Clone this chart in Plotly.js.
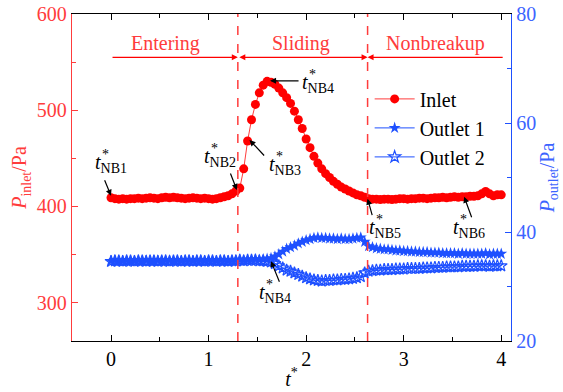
<!DOCTYPE html>
<html>
<head>
<meta charset="utf-8">
<script src="https://cdn.plot.ly/plotly-3.0.1.min.js"></script>
<style>html,body{margin:0;padding:0;background:#fff;}#chart{width:563px;height:392px;}</style>
</head>
<body>
<div id="chart"></div>
<script>
// time t* (dimensionless)
const tStar = [0.00,0.04,0.08,0.12,0.16,0.20,0.24,0.28,0.32,0.36,0.40,0.44,0.48,0.52,0.56,0.60,0.64,0.68,0.72,0.76,
0.80,0.84,0.88,0.92,0.96,1.00,1.04,1.08,1.12,1.16,1.20,1.24,1.28,1.32,1.36,1.40,1.44,1.48,1.52,1.56,
1.60,1.64,1.68,1.72,1.76,1.80,1.84,1.88,1.92,1.96,2.00,2.04,2.08,2.12,2.16,2.20,2.24,2.28,2.32,2.36,
2.40,2.44,2.48,2.52,2.56,2.60,2.64,2.68,2.72,2.76,2.80,2.84,2.88,2.92,2.96,3.00,3.04,3.08,3.12,3.16,
3.20,3.24,3.28,3.32,3.36,3.40,3.44,3.48,3.52,3.56,3.60,3.64,3.68,3.72,3.76,3.80,3.84,3.88,3.92,3.96,4.00];

// inlet pressure (Pa), left axis
const pInlet = [409,408,407.5,408,407.5,408,408,408.5,408,408.5,409,408.5,408,409,409.5,409,409.5,409,408.5,408,
408.5,409,408.5,408,408.5,408,407.5,408,409,410,411,413,416,419,439,468,490,506,518,526,
530,529,527,523,518,513,507,499,490,481,470,461,452,445,439,434,430,426,423,420,
418,416,414,412,411,409.5,408,407.5,407.5,407,407.5,407.5,407,407.5,408,408,407.5,408,408,408.5,
408.5,408,408.5,409,409,409.5,409,409.5,410,409.5,410,410,410.5,410.5,411,413,415.5,413,411,412,412];

// outlet pressures (Pa), right axis
const pOutlet1 = [34.7,34.8,34.7,34.7,34.8,34.7,34.7,34.8,34.7,34.8,34.7,34.7,34.8,34.7,34.8,34.8,34.7,34.8,34.7,34.8,
34.8,34.7,34.8,34.8,34.7,34.8,34.8,34.7,34.8,34.8,34.7,34.8,34.8,34.9,34.8,34.9,34.9,35.0,34.9,35.0,
35.1,35.2,35.5,35.9,36.4,36.9,37.2,37.5,37.9,38.2,38.5,38.7,38.9,39.0,38.9,38.9,38.8,38.8,38.7,38.8,
38.7,38.7,38.8,38.9,39.0,38.2,37.4,37.2,37.0,36.9,36.8,36.8,36.7,36.6,36.6,36.5,36.5,36.4,36.4,36.3,
36.3,36.3,36.2,36.2,36.2,36.1,36.1,36.1,36.1,36.0,36.1,36.0,36.0,36.0,36.0,36.0,36.1,35.9,36.0,36.0,36.0];

const pOutlet2 = [34.6,34.7,34.7,34.6,34.7,34.7,34.6,34.7,34.7,34.6,34.7,34.7,34.6,34.7,34.7,34.6,34.7,34.7,34.6,34.7,
34.7,34.6,34.7,34.7,34.6,34.7,34.7,34.6,34.7,34.7,34.6,34.7,34.7,34.8,34.7,34.8,34.8,34.8,34.7,34.7,
34.6,34.5,34.2,33.8,33.4,33.0,32.8,32.5,32.2,31.9,31.6,31.4,31.2,31.1,31.0,31.1,31.1,31.2,31.2,31.3,
31.3,31.4,31.5,31.6,31.8,32.5,32.8,32.9,33.0,33.0,33.1,33.1,33.1,33.2,33.2,33.2,33.3,33.3,33.3,33.3,
33.4,33.4,33.4,33.5,33.5,33.5,33.6,33.6,33.6,33.6,33.7,33.7,33.7,33.7,33.8,33.8,33.8,33.7,33.8,33.8,33.8];

// phase boundaries and labels
const phaseBounds = [0.0, 1.3, 2.63, 4.03];
const phaseLabels = ['Entering', 'Sliding', 'Nonbreakup'];
const phaseLabelX = [0.56, 1.95, 3.33];

// characteristic instants: label, arrow head (t*, P_inlet-axis units), text position (t*, P_inlet-axis units)
const nbNames = ['NB1', 'NB2', 'NB3', 'NB4', 'NB4', 'NB5', 'NB6'];
const nbHeadT = [0.00, 1.29, 1.42, 1.63, 1.64, 2.63, 3.62];
const nbHeadP = [411, 417, 469, 530.5, 343, 408, 410];
const nbTextT = [-0.185, 0.935, 1.60, 1.94, 1.50, 2.628, 3.482];
const nbTextP = [445, 451, 442.7, 528, 309.4, 377, 377];

const RED = 'rgb(255,0,0)';
const RED_L = 'rgb(255,60,60)';
const BLUE = 'rgb(30,80,255)';
const BLUE_T = 'rgb(60,100,255)';
const FONT = 'Liberation Serif, Times New Roman, serif';
const FS = 20;

const traces = [
  {x: tStar, y: pInlet, name: 'Inlet', type: 'scatter', mode: 'lines+markers', yaxis: 'y',
   line: {color: RED_L, width: 1}, marker: {symbol: 'circle', size: 9, color: RED}},
  {x: tStar, y: pOutlet1, name: 'Outlet 1', type: 'scatter', mode: 'lines+markers', yaxis: 'y2',
   line: {color: BLUE, width: 1}, marker: {symbol: 'star', size: 9, color: BLUE}},
  {x: tStar, y: pOutlet2, name: 'Outlet 2', type: 'scatter', mode: 'lines+markers', yaxis: 'y2',
   line: {color: BLUE, width: 1}, marker: {symbol: 'star-open', size: 9, color: BLUE, line: {width: 1.2, color: BLUE}}}
];

const shapes = [1, 2].map(i => ({
  type: 'line', xref: 'x', yref: 'paper', x0: phaseBounds[i], x1: phaseBounds[i], y0: 0, y1: 1,
  line: {color: RED_L, width: 1.5, dash: 'dash'}
}));

const annotations = [];
phaseLabels.forEach((lab, i) => annotations.push({
  x: phaseLabelX[i], y: 569, xref: 'x', yref: 'y', text: lab, showarrow: false,
  font: {family: FONT, size: FS, color: RED_L}
}));
const arrowY = 555;
const segArrow = (head, tail, side) => ({x: head, y: arrowY, ax: tail, ay: arrowY, xref: 'x', yref: 'y', axref: 'x', ayref: 'y',
  text: '', showarrow: true, arrowhead: 2, arrowsize: 1, arrowwidth: 1.2, arrowcolor: RED, arrowside: side});
annotations.push(segArrow(phaseBounds[1], phaseBounds[0], 'end'));
annotations.push(segArrow(phaseBounds[2], phaseBounds[1], 'end+start'));
annotations.push(segArrow(phaseBounds[2], phaseBounds[3], 'end'));

// arrow tail offsets (px) for the NB arrows
const tailDX = [-7, -7, 16, 30, 9, 5, 8];
const tailDY = [-17, -18, 17, 0, 22, 18, 22];
nbNames.forEach((nm, i) => {
  annotations.push({x: nbHeadT[i], y: nbHeadP[i], xref: 'x', yref: 'y', ax: tailDX[i], ay: tailDY[i], text: '', showarrow: true,
    arrowhead: 2, arrowsize: 1, arrowwidth: 1.2, arrowcolor: 'black', standoff: 0});
  annotations.push({x: nbTextT[i], y: nbTextP[i], xref: 'x', yref: 'y', xanchor: 'left', yanchor: 'middle', showarrow: false,
    text: '<i>t</i><sub>' + nm + '</sub>', font: {family: FONT, size: FS, color: 'black'}});
  annotations.push({x: nbTextT[i], y: nbTextP[i], xref: 'x', yref: 'y', xanchor: 'left', yanchor: 'middle', showarrow: false,
    xshift: 7, yshift: 9, text: '*', font: {family: FONT, size: 14, color: 'black'}});
});

const layout = {
  width: 563, height: 392,
  margin: {l: 72, r: 52, t: 14, b: 51, pad: 0},
  paper_bgcolor: 'white', plot_bgcolor: 'white',
  font: {family: FONT, size: FS, color: 'black'},
  showlegend: true,
  legend: {x: 0.678, y: 0.80, xanchor: 'left', yanchor: 'top', bgcolor: 'rgba(0,0,0,0)',
    font: {family: FONT, size: FS, color: 'black'}, itemwidth: 40, tracegroupgap: 0},
  xaxis: {range: [-0.4, 4.1], tickvals: [0, 1, 2, 3, 4], ticks: 'inside', ticklen: 6, tickcolor: 'black',
    showline: true, linecolor: 'black', linewidth: 1.2, mirror: 'ticks', showgrid: false, zeroline: false,
    minor: {dtick: 0.5, tick0: 0, ticks: 'inside', ticklen: 4, tickcolor: 'black'},
    tickfont: {family: FONT, size: FS, color: 'black'},
    title: {text: '<i>t</i><sup>*</sup>', font: {family: FONT, size: FS, color: 'black'}, standoff: 2}},
  yaxis: {range: [260, 600], tickvals: [300, 400, 500, 600], ticks: 'inside', ticklen: 6, tickcolor: RED_L,
    showline: true, linecolor: RED_L, linewidth: 1.2, showgrid: false, zeroline: false,
    minor: {dtick: 50, tick0: 300, ticks: 'inside', ticklen: 4, tickcolor: RED_L},
    tickfont: {family: FONT, size: FS, color: RED_L},
    title: {text: '<i>P</i><sub>inlet</sub>/Pa', font: {family: FONT, size: FS, color: RED_L}, standoff: 4}},
  yaxis2: {range: [20, 80], tickvals: [20, 40, 60, 80], overlaying: 'y', side: 'right', anchor: 'x',
    ticks: 'inside', ticklen: 6, tickcolor: BLUE,
    showline: true, linecolor: BLUE, linewidth: 1.2, showgrid: false, zeroline: false,
    minor: {dtick: 10, tick0: 20, ticks: 'inside', ticklen: 4, tickcolor: BLUE},
    tickfont: {family: FONT, size: FS, color: BLUE_T},
    title: {text: '<i>P</i><sub>outlet</sub>/Pa', font: {family: FONT, size: FS, color: BLUE_T}, standoff: 4}},
  shapes: shapes,
  annotations: annotations
};

Plotly.newPlot('chart', traces, layout, {displayModeBar: false, staticPlot: true});
</script>
</body>
</html>
